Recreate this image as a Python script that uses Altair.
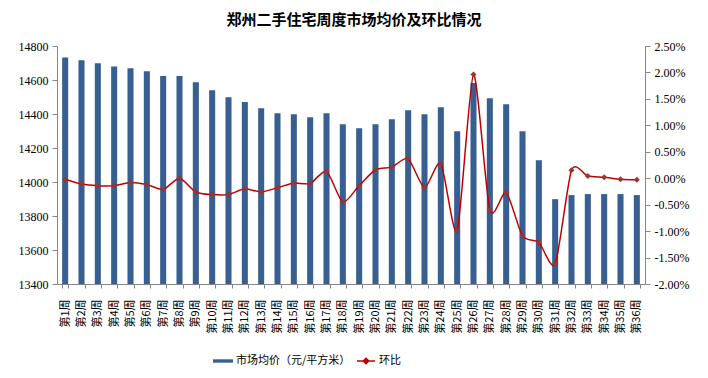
import altair as alt
import pandas as pd

weeks = [f"第{i}周" for i in range(1, 37)]
prices = [14733, 14716, 14698, 14680, 14669, 14651, 14624, 14624, 14587, 14540,
          14498, 14471, 14434, 14404, 14399, 14381, 14404, 14340, 14316, 14340,
          14369, 14422, 14399, 14440, 14299, 14583, 14493, 14457, 14299, 14128,
          13899, 13923, 13929, 13929, 13929, 13923]
changes_pct = [-0.02, -0.11, -0.14, -0.14, -0.08, -0.12, -0.21, 0.00, -0.26, -0.31,
               -0.31, -0.20, -0.26, -0.18, -0.09, -0.10, 0.13, -0.45, -0.14, 0.16,
               0.21, 0.37, -0.18, 0.28, -0.99, 1.96, -0.60, -0.27, -1.09, -1.21,
               -1.62, 0.15, 0.04, 0.02, -0.02, -0.03]
left_ticks = [13400, 13600, 13800, 14000, 14200, 14400, 14600, 14800]
right_ticks = [-0.02, -0.015, -0.01, -0.005, 0.0, 0.005, 0.01, 0.015, 0.02, 0.025]
series_bar = "市场均价（元/平方米）"
series_line = "环比"

df = pd.DataFrame({
    "week": weeks,
    "price": prices,
    "change": [c / 100 for c in changes_pct],
    "s1": series_bar,
    "s2": series_line,
})

AX = "#868686"
SERIF = "Liberation Serif"
CJK = "Noto Sans CJK SC"

x = alt.X("week:N", sort=weeks,
          scale=alt.Scale(paddingInner=0.63, paddingOuter=0.315),
          axis=alt.Axis(title=None, labelAngle=-90, labelFont=CJK, labelFontSize=11,
                        labelColor="#000", tickBand="extent", domainColor=AX,
                        tickColor=AX, tickSize=4, labelPadding=11))

bars = alt.Chart(df).mark_bar().encode(
    x=x,
    y=alt.Y("price:Q",
            scale=alt.Scale(domain=[13400, 14800], zero=False, nice=False),
            axis=alt.Axis(title=None, values=left_ticks, format="d", grid=False,
                          labelFont=SERIF, labelFontSize=12, labelColor="#000",
                          domainColor=AX, tickColor=AX, tickSize=5, labelPadding=4)),
    y2=alt.datum(13400),
    fill=alt.Fill("s1:N", scale=alt.Scale(domain=[series_bar], range=["#375F91"]),
                  legend=alt.Legend(orient="none", legendX=156, legendY=305, title=None,
                                    labelFont=CJK, labelFontSize=11, labelColor="#000",
                                    symbolType="M-1,-0.17H1V0.17H-1Z", symbolSize=400,
                                    symbolStrokeWidth=0, labelOffset=3)),
)

yr = alt.Scale(domain=[-0.02, 0.025], nice=False, zero=False)
yr_axis = alt.Axis(title=None, orient="right", values=right_ticks, grid=False,
                   labelExpr="replace(format(datum.value, '.2%'), '\u2212', '-')",
                   labelFont=SERIF, labelFontSize=12, labelColor="#000",
                   domainColor=AX, tickColor=AX, tickSize=5, labelPadding=4)

line = alt.Chart(df).mark_line(interpolate="cardinal", tension=0.3, strokeWidth=1.5).encode(
    x=x,
    y=alt.Y("change:Q", scale=yr, axis=yr_axis),
    stroke=alt.Stroke("s2:N", scale=alt.Scale(domain=[series_line], range=["#C00000"]),
                      legend=alt.Legend(orient="none", legendX=299, legendY=305, title=None,
                                        labelFont=CJK, labelFontSize=11, labelColor="#000",
                                        symbolType="M-1,0H1M0,-0.3L0.3,0L0,0.3L-0.3,0Z",
                                        symbolSize=324, symbolStrokeWidth=1.5,
                                        symbolFillColor="#953735", labelOffset=3)),
)

pts = alt.Chart(df).mark_point(shape="diamond", filled=True, size=36, opacity=1,
                               color="#953735").encode(
    x=x,
    y=alt.Y("change:Q", scale=yr, axis=yr_axis),
)

chart = alt.layer(bars, alt.layer(line, pts)).resolve_scale(
    y="independent", fill="independent", stroke="independent"
).properties(
    width=588, height=238,
    autosize=alt.AutoSizeParams(type="none"),
    padding={"left": 49, "top": 38, "right": 55, "bottom": 86},
    title=alt.TitleParams("郑州二手住宅周度市场均价及环比情况", font=CJK, fontSize=15,
                          fontWeight="bold", anchor="middle", offset=12, dx=3, color="#000"),
    background="white",
).configure_view(stroke=None)

chart.save("out.html", embed_options={"renderer": "svg", "actions": False})
